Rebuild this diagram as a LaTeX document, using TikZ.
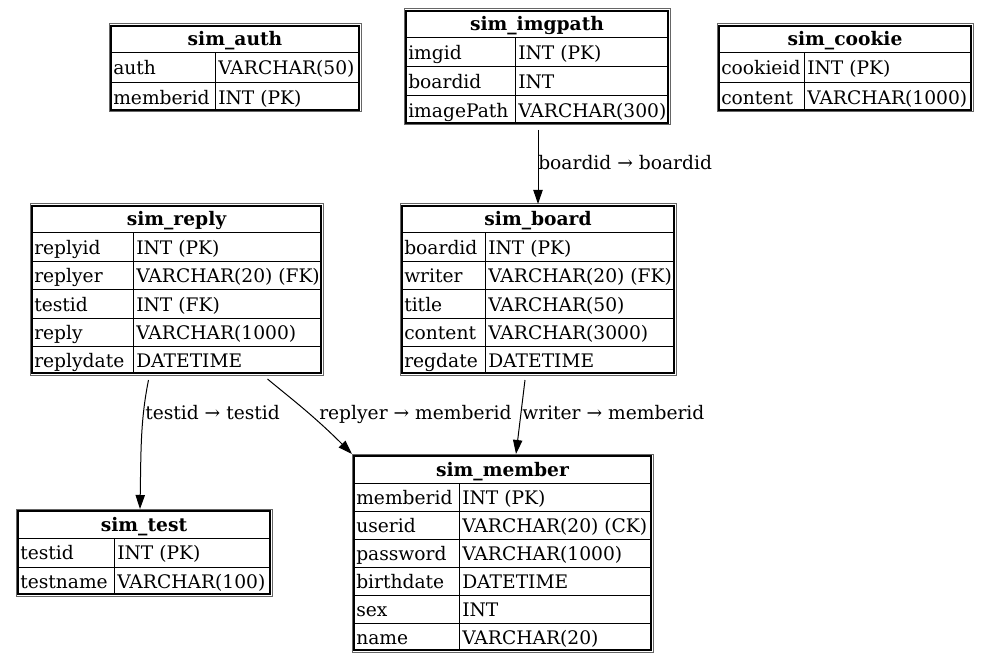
\documentclass[tikz,border=0pt]{standalone}
\usepackage{fontspec}
\setmainfont{DejaVu Serif}
\usetikzlibrary{arrows.meta,calc}
\tikzset{
 px/.style={x=0.75pt,y=-0.75pt},
 cell/.style={inner sep=0pt, anchor=base west, font=\fontsize{14}{16}\selectfont},
 head/.style={inner sep=0pt, anchor=base, font=\fontsize{14}{16}\selectfont\bfseries},
 lbl/.style={inner sep=0pt, anchor=base west, font=\fontsize{14}{16}\selectfont},
 rule/.style={line width=0.75pt},
 outerframe/.style={line width=0.75pt, black!60},
 innerframe/.style={line width=1.1pt},
 rel/.style={line width=0.75pt, -{Triangle[length=10.5pt,width=7pt]}},
 box/.style={inner sep=0pt, outer sep=0pt, draw=none}
}
\newcommand\dbtable[9]{%
 \pgfmathsetmacro\rh{(#6-#5-29)/#7}%
 \pgfmathsetmacro\bw{(#4-#2)*0.75}%
 \pgfmathsetmacro\bh{(#6-#5)*0.75}%
 \node[box, anchor=north west, minimum width=\bw pt, minimum height=\bh pt] (#1) at (#2,#5) {};
 \draw[outerframe] (#1.north west) rectangle (#1.south east);
 \draw[innerframe] ($(#1.north west)+(1.9,1.9)$) rectangle ($(#1.south east)+(-1.9,-1.9)$);
 \draw[rule] (#2+2,#5+29) -- (#4-2,#5+29);
 \draw[rule] (#3,#5+29) -- (#3,#6-2);
 \node[head] (#1-title) at ({(#2+#4)/2},#5+22) {#8};
 \foreach \f/\t [count=\i] in {#9} {
   \ifnum\i>1 \draw[rule] (#2+2,{#5+29+(\i-1)*\rh}) -- (#4-2,{#5+29+(\i-1)*\rh}); \fi
   \node[cell] (#1-f\i) at (#2+4,{#5+29+(\i-0.5)*\rh+7}) {\f};
   \node[cell] (#1-t\i) at (#3+3,{#5+29+(\i-0.5)*\rh+7}) {\t};
 }%
}
\begin{document}
\begin{tikzpicture}[px]
\useasboundingbox[fill=white] (0,0) rectangle (989,663);
\dbtable{auth}{109}{215}{361}{24}{112}{2}{sim\_auth}{auth/VARCHAR(50), memberid/INT (PK)}
\dbtable{imgpath}{404}{515}{670}{9}{125}{3}{sim\_imgpath}{imgid/INT (PK), boardid/INT, imagePath/VARCHAR(300)}
\dbtable{cookie}{717}{804}{973}{24}{112}{2}{sim\_cookie}{cookieid/INT (PK), content/VARCHAR(1000)}
\dbtable{reply}{30}{133}{323}{204}{375}{5}{sim\_reply}{replyid/INT (PK), replyer/VARCHAR(20) (FK), testid/INT (FK), reply/VARCHAR(1000), replydate/DATETIME}
\dbtable{board}{400}{485}{676}{204}{375}{5}{sim\_board}{boardid/INT (PK), writer/VARCHAR(20) (FK), title/VARCHAR(50), content/VARCHAR(3000), regdate/DATETIME}
\dbtable{member}{352}{459}{653}{454}{652}{6}{sim\_member}{memberid/INT (PK), userid/VARCHAR(20) (CK), password/VARCHAR(1000), birthdate/DATETIME, sex/INT, name/VARCHAR(20)}
\dbtable{test}{16}{114}{272}{509}{596}{2}{sim\_test}{testid/INT (PK), testname/VARCHAR(100)}
% connectors
\draw[rel] ($(imgpath.south)+(1,5)$) -- (board.north);
\draw[rel] ($(board.south)+(-13,5)$) -- ($(member.north)+(13.5,0)$);
\draw[rel] ($(reply.south)+(91,4)$) .. controls ($(reply.south)+(110,20)$) and ($(member.north west)+(-40,-40)$) .. (member.north west);
\draw[rel] ($(reply.south)+(-28,5)$) .. controls ($(reply.south)+(-36,45)$) and ($(test.north)+(-3,-60)$) .. ($(test.north)+(-4,0)$);
% labels
\node[lbl] (l1) at (538,170) {boardid → boardid};
\node[lbl] (l2) at (522,419) {writer → memberid};
\node[lbl] (l3) at (319,419) {replyer → memberid};
\node[lbl] (l4) at (145,419) {testid → testid};
\end{tikzpicture}
\end{document}
